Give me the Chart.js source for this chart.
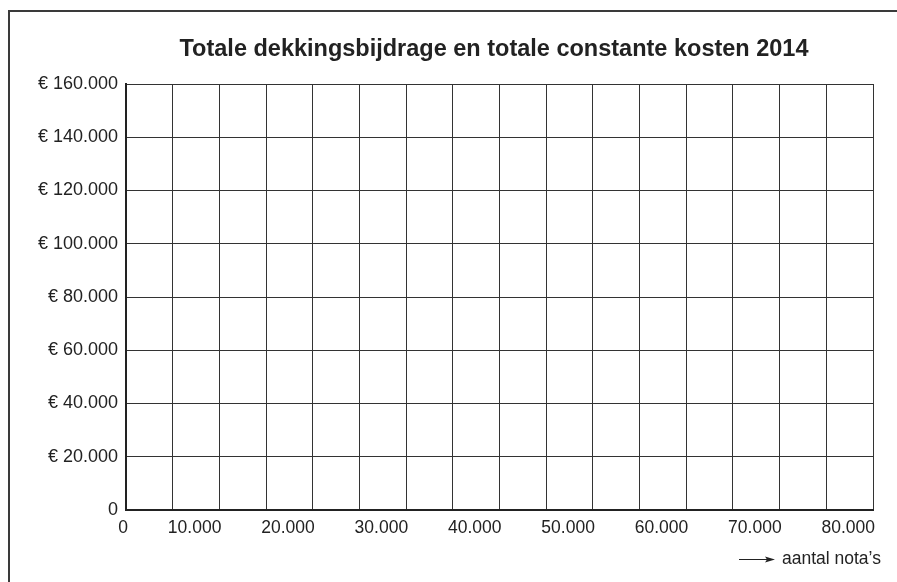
<!DOCTYPE html>
<html>
<head>
<meta charset="utf-8">
<script src="https://cdn.jsdelivr.net/npm/chart.js@4/dist/chart.umd.min.js"></script>
<style>
    html, body { margin: 0; padding: 0; background: #fff; }
    #wrap { position: relative; width: 897px; height: 582px; }
</style>
</head>
<body>
<div id="wrap"><canvas id="chart" width="897" height="582"></canvas></div>
<script>
const chartTitle = 'Totale dekkingsbijdrage en totale constante kosten 2014';
const xAxisLabel = 'aantal nota\u2019s';
const xTickLabels = ['0', '10.000', '20.000', '30.000', '40.000', '50.000', '60.000', '70.000', '80.000'];
const yTickLabels = ['0', '€ 20.000', '€ 40.000', '€ 60.000', '€ 80.000', '€ 100.000', '€ 120.000', '€ 140.000', '€ 160.000'];
const xMax = 80000;
const xStep = 5000;
const yMax = 160000;
const yStep = 20000;

const fontFamily = "'Liberation Sans', Arial, sans-serif";
const ink = '#222';

const decor = {
    id: 'decor',
    afterDraw(chart) {
        const ctx = chart.ctx;
        ctx.save();

        // outer frame (only left and top edges are visible)
        ctx.strokeStyle = '#3a3a3a';
        ctx.lineWidth = 2;
        ctx.beginPath();
        ctx.moveTo(9, 582);
        ctx.lineTo(9, 11);
        ctx.lineTo(897, 11);
        ctx.stroke();

        // title
        ctx.fillStyle = ink;
        ctx.font = 'bold 23.5px ' + fontFamily;
        ctx.textAlign = 'center';
        ctx.textBaseline = 'middle';
        ctx.fillText(chartTitle, 494, 50);

        // axis caption with arrow
        const ay = 559;
        ctx.strokeStyle = ink;
        ctx.lineWidth = 1;
        ctx.beginPath();
        ctx.moveTo(739, ay + 0.5);
        ctx.lineTo(768, ay + 0.5);
        ctx.stroke();
        ctx.beginPath();
        ctx.moveTo(775, ay + 0.5);
        ctx.lineTo(765, ay - 2.5);
        ctx.lineTo(767, ay + 0.5);
        ctx.lineTo(765, ay + 3.5);
        ctx.closePath();
        ctx.fill();

        ctx.font = '17.5px ' + fontFamily;
        ctx.textAlign = 'left';
        ctx.fillText(xAxisLabel, 782, ay);
        ctx.restore();
    },
};

new Chart(document.getElementById('chart'), {
    type: 'scatter',
    data: { datasets: [{ data: [] }] },
    options: {
        responsive: false,
        animation: false,
        layout: { padding: { top: 84, right: 24, left: 0, bottom: 0 } },
        plugins: { legend: { display: false }, tooltip: { enabled: false } },
        scales: {
            x: {
                type: 'linear',
                min: 0,
                max: xMax,
                afterFit: (s) => { s.height = 72; },
                grid: { color: '#333', lineWidth: 1, drawTicks: false },
                border: { color: '#222', width: 2 },
                ticks: {
                    stepSize: xStep,
                    autoSkip: false,
                    maxRotation: 0,
                    align: 'end',
                    labelOffset: 2,
                    padding: 8,
                    color: ink,
                    font: { family: fontFamily, size: 17.5 },
                    callback: (v) => v % 10000 === 0 ? xTickLabels[v / 10000] : '',
                },
            },
            y: {
                type: 'linear',
                min: 0,
                max: yMax,
                afterFit: (s) => { s.width = 126; },
                grid: { color: '#333', lineWidth: 1, drawTicks: false },
                border: { color: '#222', width: 2 },
                ticks: {
                    stepSize: yStep,
                    padding: 8,
                    color: ink,
                    font: { family: fontFamily, size: 18 },
                    callback: (v) => yTickLabels[v / yStep],
                },
            },
        },
    },
    plugins: [decor],
});
</script>
</body>
</html>
